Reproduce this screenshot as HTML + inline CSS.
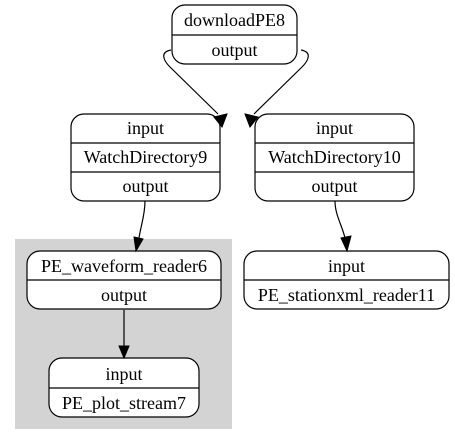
<!DOCTYPE html>
<html><head><style>body{margin:0;background:#fff}svg{display:block}</style></head><body>
<svg width="455" height="445" viewBox="0 0 455 445" xmlns="http://www.w3.org/2000/svg" text-anchor="middle">
<rect x="15" y="239" width="217" height="190" fill="#d3d3d3"/>
<g fill="#fff" stroke="#000" stroke-width="1.2">
<rect x="172" y="5" width="125" height="59" rx="13"/>
<rect x="71" y="114" width="149" height="87" rx="13"/>
<rect x="255" y="114" width="159" height="87" rx="13"/>
<rect x="27" y="251" width="194" height="58" rx="13"/>
<rect x="244" y="251" width="205" height="58" rx="13"/>
<rect x="49" y="358" width="150" height="59" rx="13"/>
</g>
<g stroke="#000" stroke-width="1.2" fill="none">
<line x1="172" y1="35" x2="297" y2="35"/>
<line x1="71" y1="143" x2="220" y2="143"/><line x1="71" y1="172" x2="220" y2="172"/>
<line x1="255" y1="143" x2="414" y2="143"/><line x1="255" y1="172" x2="414" y2="172"/>
<line x1="27" y1="280" x2="221" y2="280"/>
<line x1="244" y1="280" x2="449" y2="280"/>
<line x1="49" y1="388" x2="199" y2="388"/>
<path d="M171,50 C160,52 163,60 170,67 L218,114"/>
<path d="M301,50 C312,52 309,60 302,67 L254,114"/>
<path d="M145,201 C145,215 141,225 139,238"/>
<path d="M335,201 C335,215 342,225 345,238"/>
<path d="M124,310 L124,346"/>
</g>
<g fill="#000" stroke="#000">
<polygon points="214,117 227,114 222,127"/>
<polygon points="258,117 245,114 250,127"/>
<polygon points="134,237 143,239 136,251"/>
<polygon points="341,238 351,236 347,251"/>
<polygon points="119,346 129,346 124,358"/>
</g>
<g fill="#000" style="font-family:'Liberation Serif','DejaVu Serif',serif;font-size:18px">
<text x="234.5" y="26">downloadPE8</text>
<text x="234.5" y="56">output</text>
<text x="145.5" y="134">input</text>
<text x="145.5" y="163">WatchDirectory9</text>
<text x="145.5" y="192">output</text>
<text x="334.5" y="134">input</text>
<text x="334.5" y="163">WatchDirectory10</text>
<text x="334.5" y="192">output</text>
<text x="124" y="272">PE_waveform_reader6</text>
<text x="124" y="301">output</text>
<text x="346.5" y="272">input</text>
<text x="346.5" y="301">PE_stationxml_reader11</text>
<text x="124" y="380">input</text>
<text x="124" y="409">PE_plot_stream7</text>
</g>
</svg>
</body></html>
